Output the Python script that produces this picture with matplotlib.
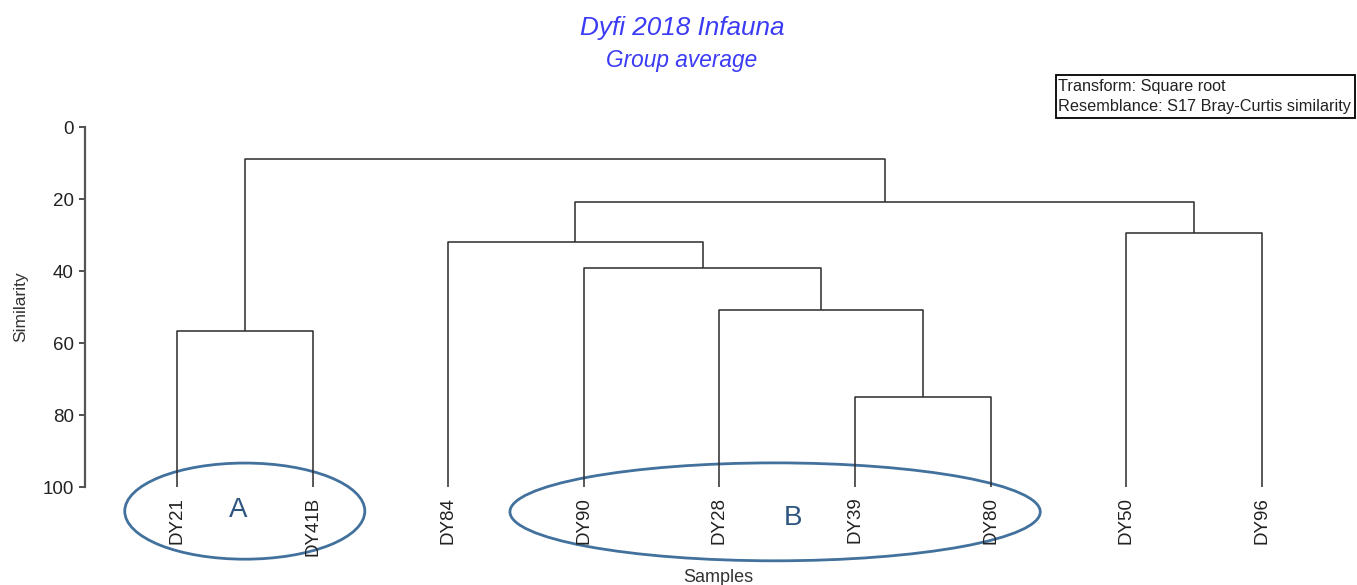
import matplotlib
matplotlib.use("Agg")
import matplotlib.pyplot as plt
from matplotlib.patches import Ellipse, Rectangle

# Data
samples = ["DY21", "DY41B", "DY84", "DY90", "DY28", "DY39", "DY80", "DY50", "DY96"]
# merges: (left node, right node, similarity); new nodes numbered after the leaves
merges = [
    (5, 6, 75.0),
    (0, 1, 56.7),
    (4, 9, 50.8),
    (3, 11, 39.2),
    (2, 12, 31.9),
    (7, 8, 29.4),
    (13, 14, 20.8),
    (10, 15, 8.9),
]
y_ticks = [0, 20, 40, 60, 80, 100]
groups = ["A", "B"]

plt.rcParams['font.family'] = ['Liberation Sans', 'DejaVu Sans']

fig = plt.figure(figsize=(13.57, 5.85), dpi=100)
ax = fig.add_axes([85 / 1357, 1 - 487 / 585, (1300 - 85) / 1357, 360 / 585])

# Dendrogram
line_kw = dict(color='#2b2b2b', lw=1.1, solid_capstyle='butt')
node_x = {i: float(i) for i in range(len(samples))}
node_y = {i: 100.0 for i in range(len(samples))}
for k, (a, b, sim) in enumerate(merges):
    xa, xb = node_x[a], node_x[b]
    ax.plot([xa, xa, xb, xb], [node_y[a], sim, sim, node_y[b]], **line_kw)
    new = len(samples) + k
    node_x[new] = (xa + xb) / 2
    node_y[new] = sim

ax.set_xlim(-0.678, 8.28)
ax.set_ylim(100, 0)
ax.set_yticks(y_ticks)
ax.tick_params(axis='y', direction='out', length=4.5, width=1.2, labelsize=13.5,
               colors='#333333', labelcolor='#222222', pad=3.5)
ax.set_xticks(range(len(samples)))
ax.set_xticklabels(samples, rotation=90, fontsize=13.5, color='#222222')
ax.tick_params(axis='x', length=0, pad=7)
for s in ['top', 'right', 'bottom']:
    ax.spines[s].set_visible(False)
ax.spines['left'].set_color('#555555')
ax.spines['left'].set_linewidth(1.6)

ax.set_ylabel("Similarity", fontsize=12.5, color='#333333', labelpad=10)
fig.text(718 / 1357, 1 - 577 / 585, "Samples", fontsize=13, color='#333333',
         ha='center', va='center')

# Group ellipses
ax.add_patch(Ellipse((0.5, 106.7), 1.77, 26.7, fill=False, ec='#41719c', lw=2,
                     clip_on=False))
ax.add_patch(Ellipse((4.41, 106.9), 3.91, 27.2, fill=False, ec='#41719c', lw=2,
                     clip_on=False))
ax.text(0.45, 106.4, groups[0], fontsize=20, color='#2e5580', ha='center',
        va='center', clip_on=False)
ax.text(4.54, 108.6, groups[1], fontsize=20, color='#2e5580', ha='center',
        va='center', clip_on=False)

# Titles
fig.text(682 / 1357, 1 - 28 / 585, "Dyfi 2018 Infauna", fontsize=18.8,
         style='italic', color='#3b3bf5', ha='center', va='center')
fig.text(682 / 1357, 1 - 60 / 585, "Group average", fontsize=16.3,
         style='italic', color='#3b3bf5', ha='center', va='center')

# Info box
fig.add_artist(Rectangle((1056 / 1357, 1 - 118 / 585), 299 / 1357, 43 / 585,
                         transform=fig.transFigure, fill=False, ec='black', lw=1.3))
fig.text(1058 / 1357, 1 - 87 / 585, "Transform: Square root", fontsize=11.7,
         color='#222222', ha='left', va='center')
fig.text(1058 / 1357, 1 - 106 / 585, "Resemblance: S17 Bray-Curtis similarity",
         fontsize=11.7, color='#222222', ha='left', va='center')

fig.savefig("out.png", dpi=100)
